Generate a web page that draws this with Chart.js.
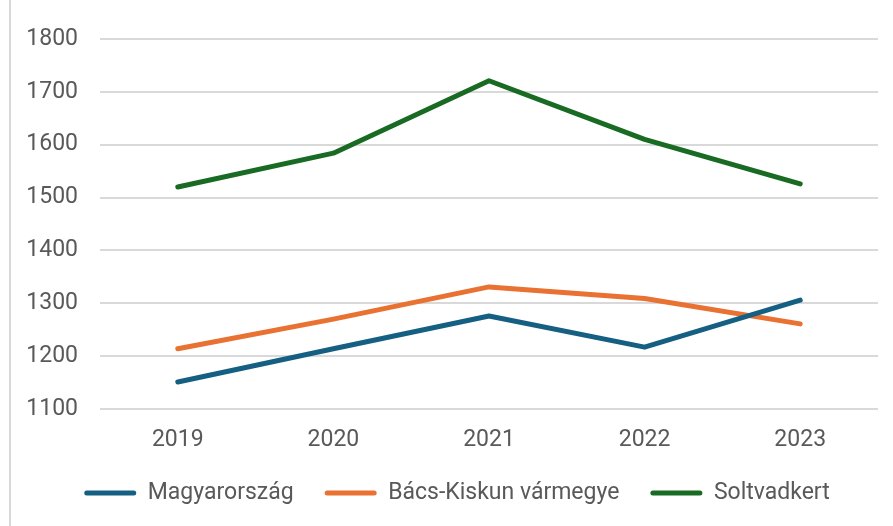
<!DOCTYPE html>
<html>
<head>
<meta charset="utf-8">
<script src="https://cdn.jsdelivr.net/npm/chart.js@4.4.1/dist/chart.umd.min.js"></script>
<style>
  html, body { margin: 0; padding: 0; background: #fff; }
  #wrap { position: relative; width: 893px; height: 526px; }
  #frame { position: absolute; left: 9px; top: 0; bottom: 0; border-left: 2px solid #d9d9d9; }
</style>
</head>
<body>
<div id="wrap">
  <div id="frame"></div>
  <canvas id="chart" width="893" height="526"></canvas>
</div>
<script>
// évek
const years = ['2019', '2020', '2021', '2022', '2023'];
// sorozatok
const magyarorszag = [1151, 1214, 1276, 1217, 1306];
const bacsKiskun = [1214, 1270, 1331, 1309, 1261];
const soltvadkert = [1520, 1584, 1721, 1610, 1526];
const seriesNames = ['Magyarország', 'Bács-Kiskun vármegye', 'Soltvadkert'];
const seriesColors = ['#156082', '#E97132', '#196B24'];

const font = 'Roboto';

function lineSet(label, data, color) {
  return {
    label: label,
    data: data,
    borderColor: color,
    backgroundColor: color,
    borderWidth: 5,
    borderCapStyle: 'round',
    borderJoinStyle: 'round',
    pointRadius: 0,
    pointHoverRadius: 0,
    tension: 0
  };
}

// jelmagyarázat kicsit jobbra tolva, mint az eredetin
const legendShift = {
  id: 'legendShift',
  afterLayout: function (chart) {
    const lg = chart.legend;
    if (lg) {
      lg.left = 36;
      lg.width = lg.right - lg.left;
    }
  }
};

var ctx = document.getElementById('chart').getContext('2d');
new Chart(ctx, {
  type: 'line',
  data: {
    labels: years,
    datasets: [
      lineSet(seriesNames[0], magyarorszag, seriesColors[0]),
      lineSet(seriesNames[1], bacsKiskun, seriesColors[1]),
      lineSet(seriesNames[2], soltvadkert, seriesColors[2])
    ]
  },
  plugins: [legendShift],
  options: {
    responsive: false,
    animation: false,
    layout: { padding: { top: 39, right: 15, left: 0, bottom: 11.5 } },
    plugins: {
      tooltip: { enabled: false },
      legend: {
        position: 'bottom',
        labels: {
          boxWidth: 52,
          boxHeight: 5,
          padding: 31,
          color: '#595959',
          font: { family: font, size: 23 },
          generateLabels: function (chart) {
            const items = Chart.defaults.plugins.legend.labels.generateLabels(chart);
            items.forEach(item => {
              item.lineWidth = 0;
              item.borderRadius = 2.5;
            });
            return items;
          }
        }
      }
    },
    scales: {
      x: {
        offset: true,
        grid: { display: false, drawTicks: false },
        border: { display: false },
        ticks: {
          color: '#595959',
          padding: 17.5,
          font: { family: font, size: 23 }
        },
        afterFit: function (scale) { scale.height = 41.5; }
      },
      y: {
        min: 1100,
        max: 1800,
        grid: { color: '#d9d9d9', lineWidth: 2, drawTicks: false },
        border: { display: false },
        ticks: {
          stepSize: 100,
          padding: 22,
          color: '#595959',
          font: { family: font, size: 23 },
          callback: function (value) { return String(value); }
        },
        afterFit: function (scale) { scale.width = 100; }
      }
    }
  }
});
</script>
</body>
</html>
